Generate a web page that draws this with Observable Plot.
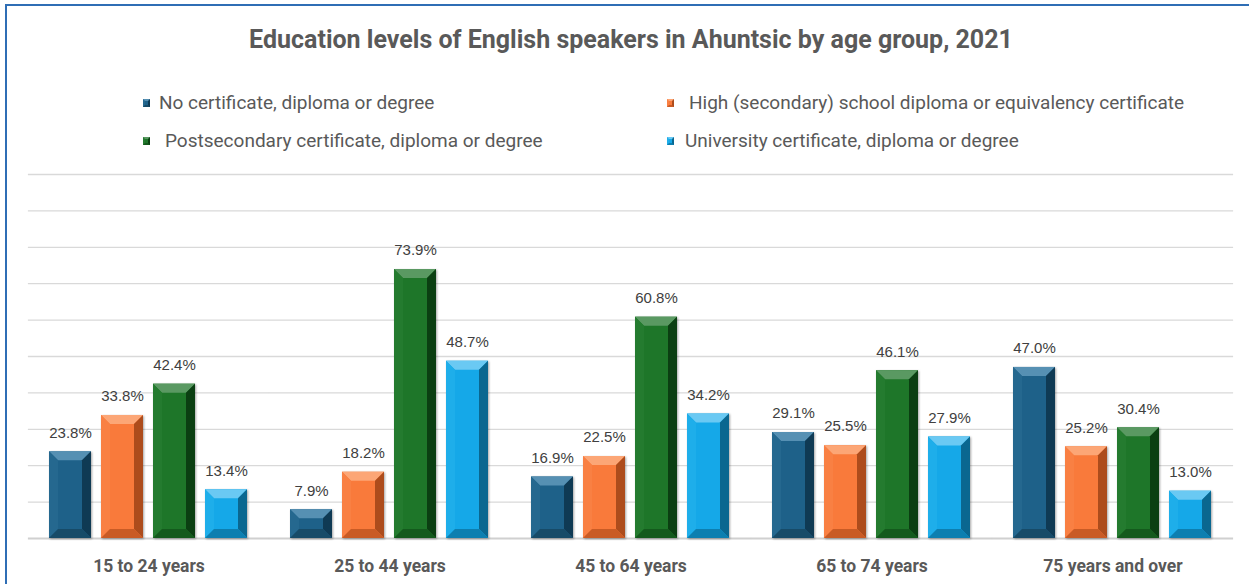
<!DOCTYPE html>
<html>
<head>
<meta charset="utf-8">
<script src="https://cdn.jsdelivr.net/npm/d3@7"></script>
<script src="https://cdn.jsdelivr.net/npm/@observablehq/plot@0.6"></script>
<style>
  body { margin: 0; background: #fff; }
  #wrap { position: relative; width: 1249px; height: 584px; overflow: hidden; font-family: Roboto, "Liberation Sans", sans-serif; background: #fff; }
  #frame { position: absolute; left: 5px; top: 4px; width: 1300px; height: 700px; border-top: 2px solid #2f6eb5; border-left: 2px solid #2f6eb5; box-sizing: border-box; pointer-events: none; }
  #title { position: absolute; left: 0; width: 1262px; top: 25px; line-height: 30px; text-align: center; font-weight: 700; font-size: 25px; color: #595959; }
  .sw { position: absolute; width: 3px; height: 4px; border-style: solid; border-width: 2px; }
  .lt { position: absolute; font-size: 19px; line-height: 22px; color: #595959; white-space: pre; }
  #chart { position: absolute; left: 0; top: 160px; }
</style>
</head>
<body>
<div id="wrap">
  <div id="title"></div>
  <div id="legend"></div>
  <div id="chart"></div>
  <div id="frame"></div>
</div>
<script>
// ---- data ----
const chartTitle = "Education levels of English speakers in Ahuntsic by age group, 2021";
const ageGroups = ["15 to 24 years", "25 to 44 years", "45 to 64 years", "65 to 74 years", "75 years and over"];
const seriesNames = [
  "No certificate, diploma or degree",
  "High (secondary) school diploma or equivalency certificate",
  "Postsecondary certificate, diploma or degree",
  "University certificate, diploma or degree"
];
const noCertificate = [23.8, 7.9, 16.9, 29.1, 47.0];
const highSchool = [33.8, 18.2, 22.5, 25.5, 25.2];
const postsecondary = [42.4, 73.9, 60.8, 46.1, 30.4];
const university = [13.4, 48.7, 34.2, 27.9, 13.0];
const gridTicks = [0, 10, 20, 30, 40, 50, 60, 70, 80, 90, 100];

// ---- styles ----
const palette = [
  { front: "#1e6189", top: "#5690b3", left: "#25688f", right: "#0f3a54", bottom: "#174b68" },
  { front: "#f97a3b", top: "#fca676", left: "#f98043", right: "#ad4c1c", bottom: "#c95b25" },
  { front: "#1e7629", top: "#5a9962", left: "#247b2f", right: "#0b3f12", bottom: "#145a1d" },
  { front: "#15a8e8", top: "#6ac9f3", left: "#1eaeea", right: "#0a6790", bottom: "#0d7fb0" }
];

const seriesValues = [noCertificate, highSchool, postsecondary, university];
const rows = [];
ageGroups.forEach((g, i) => seriesNames.forEach((s, j) => rows.push({ group: g, series: s, k: j, value: seriesValues[j][i] })));

document.getElementById("title").textContent = chartTitle;

// legend
const legend = document.getElementById("legend");
const legendPos = [
  { sx: 143, tx: 159, y: 92 },
  { sx: 667, tx: 689, y: 92 },
  { sx: 143, tx: 165, y: 130 },
  { sx: 667, tx: 685, y: 130 }
];
seriesNames.forEach((s, j) => {
  const p = legendPos[j], c = palette[j];
  const sw = document.createElement("div");
  sw.className = "sw";
  sw.style.left = p.sx + "px";
  sw.style.top = (p.y + 7) + "px";
  sw.style.background = c.front;
  sw.style.borderColor = `${c.top} ${c.right} ${c.bottom} ${c.left}`;
  legend.appendChild(sw);
  const t = document.createElement("div");
  t.className = "lt";
  t.style.left = p.tx + "px";
  t.style.top = p.y + "px";
  t.textContent = s;
  legend.appendChild(t);
});

const gap = 21.1;
const chart = Plot.plot({
  width: 1249,
  height: 424,
  marginLeft: 28,
  marginRight: 16,
  marginTop: 14,
  marginBottom: 46,
  style: { background: "transparent", overflow: "visible" },
  fx: { domain: ageGroups, paddingInner: 0.175, paddingOuter: 0.0875, label: null },
  x: { domain: seriesNames, paddingInner: 0.19, paddingOuter: 0, axis: null },
  y: { domain: [0, 100], axis: null },
  marks: [
    Plot.ruleY(gridTicks.filter(t => t > 0), { stroke: "#d9d9d9", strokeWidth: 1.3, insetLeft: -gap, insetRight: -gap }),
    Plot.ruleY([0], { stroke: "#d0d0d0", strokeWidth: 2.2, insetLeft: -gap, insetRight: -gap }),
    ...seriesNames.map((s, j) => Plot.barY(rows.filter(r => r.k === j), { fx: "group", x: "series", y: "value", fill: palette[j].front })),
    Plot.text(rows, { fx: "group", x: "series", y: "value", text: d => d.value.toFixed(1) + "%", dy: -19, fontSize: 15, fill: "#404040", fontFamily: "Liberation Sans, Arial, sans-serif" }),
    Plot.axisFx({ anchor: "bottom", tickSize: 0, tickPadding: 21, fontSize: 17.5, fontWeight: "bold", fill: "#595959", label: null, fontFamily: "Roboto, sans-serif" })
  ]
});
document.getElementById("chart").appendChild(chart);

// bevel effect on bars, derived from the rendered rects
d3.select(chart).selectAll('g[aria-label="bar"]').each(function (_, j) {
  const c = palette[j];
  d3.select(this).style("filter", "drop-shadow(1px 1px 1.2px rgba(0,0,0,0.35))");
  d3.select(this).selectAll("rect").each(function () {
    const r = d3.select(this);
    const x = +r.attr("x"), y = +r.attr("y"), w = +r.attr("width"), h = +r.attr("height");
    const b = Math.min(9, h / 2, w / 2);
    const parent = d3.select(this.parentNode);
    const add = (pts, fill) => parent.append("polygon").attr("points", pts.map(p => p.join(",")).join(" ")).attr("fill", fill);
    add([[x, y], [x + w, y], [x + w - b, y + b], [x + b, y + b]], c.top);
    add([[x, y], [x + b, y + b], [x + b, y + h - b], [x, y + h]], c.left);
    add([[x + w, y], [x + w, y + h], [x + w - b, y + h - b], [x + w - b, y + b]], c.right);
    add([[x, y + h], [x + w, y + h], [x + w - b, y + h - b], [x + b, y + h - b]], c.bottom);
  });
});
</script>
</body>
</html>
